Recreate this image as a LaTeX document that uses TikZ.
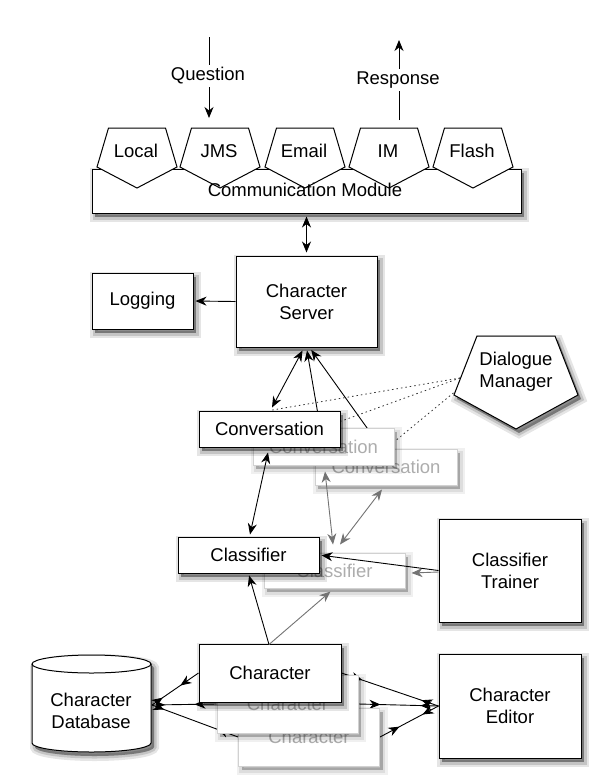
\documentclass[tikz,border=0pt]{standalone}
\usepackage{fontspec}
\setmainfont{Liberation Sans}
\usetikzlibrary{arrows.meta,shadows,decorations.markings,calc}
\pgfdeclarelayer{back}
\pgfdeclarelayer{bg}
\pgfsetlayers{back,bg,main}
\tikzset{
  fs/.style={font=\fontsize{18.5}{22}\selectfont},
  shd/.style={
    drop shadow={shadow xshift=3pt, shadow yshift=-4pt, fill=black, draw=black, line width=10pt, opacity=0.10},
    drop shadow={shadow xshift=3pt, shadow yshift=-4pt, fill=black, draw=black, line width=5pt, opacity=0.14},
    drop shadow={shadow xshift=3pt, shadow yshift=-4pt, fill=black, draw=none, opacity=0.20}},
  lshd/.style={
    drop shadow={shadow xshift=3pt, shadow yshift=-4pt, fill=black, draw=black, line width=10pt, opacity=0.06},
    drop shadow={shadow xshift=3pt, shadow yshift=-4pt, fill=black, draw=black, line width=5pt, opacity=0.08},
    drop shadow={shadow xshift=3pt, shadow yshift=-4pt, fill=black, draw=none, opacity=0.12}},
  box/.style={draw=black, line width=1pt, fill=white, fs, align=center, inner sep=0pt, shd},
  ghost/.style={draw=black!18, line width=1pt, fill=white, text=black!32, fs, align=center, inner sep=0pt, lshd},
  lbl/.style={fs, align=center, inner sep=0pt},
  pentst/.style={draw=black, line width=1pt, fill=white},
  conn/.style={draw=black, line width=0.9pt},
  gconn/.style={draw=black!55, line width=0.9pt},
  dots/.style={draw=black!80, line width=0.8pt, dash pattern=on 1.5pt off 3pt},
  twohead/.style 2 args={postaction={decorate, decoration={markings,
      mark=at position #1 with {\arrow{>}},
      mark=at position #2 with {\arrowreversed{>}}}}},
}
\begin{document}
\begin{tikzpicture}[x=1pt, y=-1pt, >={Stealth[length=11pt,width=9pt,inset=3.5pt]}]
\begin{pgfonlayer}{back}
\fill[white] (0,0) rectangle (611,780);
\end{pgfonlayer}
\useasboundingbox (0,0) rectangle (611,780);

% ---- top: question / response
\coordinate (qtop) at (209,37);
\coordinate (qbot) at (209,118);
\draw[conn,->] (qtop) -- (qbot);
\node[lbl, fill=white, inner sep=3pt] (question) at (208,76) {Question};
\coordinate (rbot) at (399,120);
\coordinate (rtop) at (399,40);
\draw[conn,->] (rbot) -- (rtop);
\node[lbl, fill=white, inner sep=3pt] (response) at (398,80) {Response};

% ---- communication module
\node[box, minimum width=429pt, minimum height=44pt] (comm) at (306.5,191) {};
\foreach \cx/\nm/\t in {137/local/Local,220/jms/JMS,305/email/Email,389/im/IM,473/flash/Flash}{
  \draw[pentst] (\cx-28.5,128) -- (\cx+28.5,128) -- (\cx+40,167) -- (\cx,188) -- (\cx-40,167) -- cycle;
  \node[lbl] (\nm) at (\cx-1,151) {\t};
}
\node[lbl] (commlbl) at (305,190) {Communication Module};

% ---- server & logging
\node[box, minimum width=141pt, minimum height=91pt] (server) at (306.5,301.5) {Character\\Server};
\node[box, minimum width=101pt, minimum height=56pt] (logging) at (142.5,301) {Logging};
\draw[conn,<->, shorten <=3pt, shorten >=3pt] (comm.south -| server.north) -- (server.north);
\draw[conn,->, shorten >=2pt] (server.west) -- (logging.east);

% ---- dialogue manager
\draw[pentst, shd] (477,336) -- (555,336) -- (578,395) -- (516,429) -- (454,395) -- cycle;
\node[lbl] (dm) at (516,372) {Dialogue\\Manager};
\coordinate (dmL) at (460,378);
\coordinate (dmL2) at (457,390);

% ---- conversations
\node[ghost, minimum width=142pt, minimum height=36pt] (conv3) at (386,467) {Conversation};
\node[ghost, minimum width=141pt, minimum height=37pt] (conv2) at (323.5,446.5) {Conversation};
\node[box, minimum width=141pt, minimum height=36pt] (conv1) at (269.5,429) {Conversation};
\draw[conn,<->] ($(conv1.north)+(2.5,-3)$) -- ($(server.south)+(-4,3)$);

% ---- classifiers
\node[ghost, minimum width=141pt, minimum height=35pt] (class2) at (334.5,570.5) {Classifier};
\node[box, minimum width=141pt, minimum height=36pt] (class1) at (248.5,555) {Classifier};
\node[box, minimum width=142pt, minimum height=103pt] (trainer) at (510,570.5) {Classifier\\Trainer};

\draw[conn,<->] ($(conv1.south)+(-1.5,5)$) -- ($(class1.north)+(1.5,-2)$);
\draw[gconn,<->] ($(conv2.south)+(1.5,6)$) -- ($(class2.north)+(-1.5,-8)$);
\draw[gconn,<->] ($(conv3.south)+(-4,4)$) -- ($(class2.north)+(5.5,-8)$);
\draw[gconn,->] ($(trainer.west)+(0,1.5)$) -- ($(class2.east)+(6,2.5)$);
\draw[conn,->, shorten >=2pt] (trainer.west) -- (class1.east);

% ---- characters
\node[ghost, minimum width=141pt, minimum height=58pt] (char3) at (309,737) {Character};
\node[ghost, minimum width=141pt, minimum height=58pt] (char2) at (287.5,704) {Character};
\node[box, minimum width=142pt, minimum height=58pt] (char1) at (270,673) {Character};
\node[box, minimum width=142pt, minimum height=104pt] (editor) at (510,706) {Character\\Editor};

\draw[conn,->, shorten >=2pt] ($(char1.north)+(-1,1)$) -- (class1.south);
\draw[gconn,->] ($(char1.north)+(-1,1)$) -- ($(class2.south)+(-4,3)$);

% ---- database cylinder
\draw[pentst, shd] (32,664) -- (32,743) arc[start angle=180, end angle=0, x radius=59.5, y radius=9]
   -- (151,664) arc[start angle=0, end angle=-180, x radius=59.5, y radius=9] -- cycle;
\draw[conn, line width=1pt] (32,664) arc[start angle=180, end angle=0, x radius=59.5, y radius=9];
\node[lbl] (db) at (91,711) {Character\\Database};
\coordinate (dbR) at (152,705);

% ---- lines drawn behind the boxes
\begin{pgfonlayer}{bg}
\draw[conn,->, shorten >=3pt] (conv2.center) -- (server.south);
\draw[conn,->, shorten >=3pt] ($(conv3.center)+(9,0)$) -- ($(server.south)+(3,0)$);
\draw[dots] (dmL) -- (conv1.north);
\draw[dots] (dmL) -- (conv2.north);
\draw[dots] (dmL2) -- (conv3.north);
\draw[conn, twohead={22pt}{-13pt}] (char1.west) -- (dbR);
\draw[conn, twohead={22pt}{-13pt}] (char2.west) -- (dbR);
\draw[conn, twohead={22pt}{-13pt}] (char3.west) -- (dbR);
\draw[conn, twohead={22pt}{-18pt}] (char1.east) -- (editor.west);
\draw[conn, twohead={22pt}{-18pt}] (char2.east) -- (editor.west);
\draw[conn, twohead={22pt}{-18pt}] (char3.east) -- (editor.west);
\end{pgfonlayer}
\end{tikzpicture}
\end{document}
